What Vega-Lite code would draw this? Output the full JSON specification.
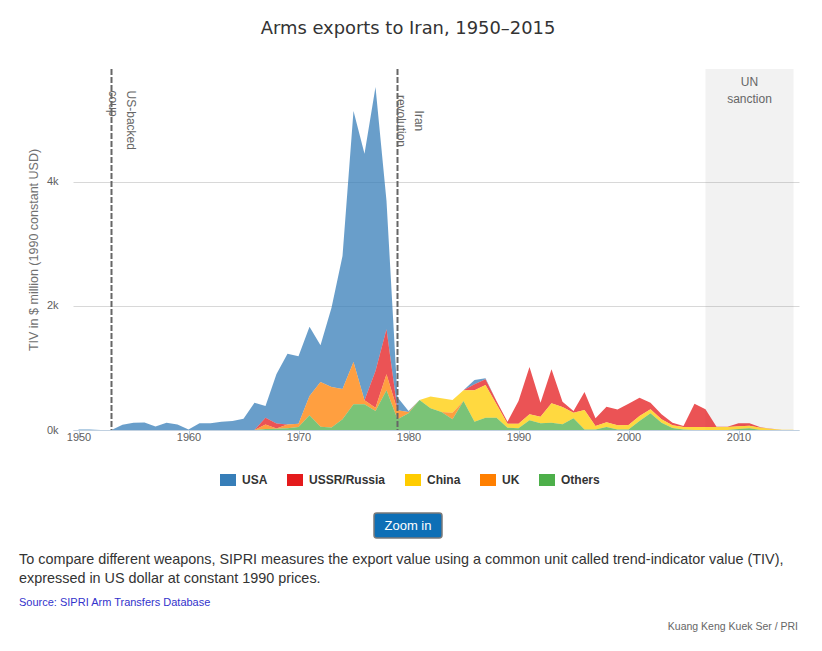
{
"$schema": "https://vega.github.io/schema/vega-lite/v6.json",
"background": "white",
"padding": {"left": 19, "top": 20, "right": 10, "bottom": 6},
"bounds": "flush",
"spacing": 83,
"config": {"view": {"stroke": null}, "font": "Liberation Sans"},
"vconcat": [
{
"width": 726, "height": 361,
"title": {"text": "Arms exports to Iran, 1950–2015", "anchor": "middle", "frame": "group", "dx": -28, "font": "DejaVu Sans", "fontSize": 17.9, "fontWeight": "normal", "color": "#333333", "offset": 30},
"layer": [
{
"data": {"values": [{"start": 2007, "end": 2015}]},
"mark": {"type": "rect", "color": "#808080", "opacity": 0.1},
"encoding": {"x": {"field": "start", "type": "quantitative", "title": null}, "x2": {"field": "end"}}
},
{
"data": {"values": [
{"year":1950,"country":"USA","tiv":10},{"year":1951,"country":"USA","tiv":10},{"year":1952,"country":"USA","tiv":0},{"year":1953,"country":"USA","tiv":0},{"year":1954,"country":"USA","tiv":85},{"year":1955,"country":"USA","tiv":115},{"year":1956,"country":"USA","tiv":120},{"year":1957,"country":"USA","tiv":55},{"year":1958,"country":"USA","tiv":115},{"year":1959,"country":"USA","tiv":90},
{"year":1960,"country":"USA","tiv":10},{"year":1961,"country":"USA","tiv":108},{"year":1962,"country":"USA","tiv":108},{"year":1963,"country":"USA","tiv":134},{"year":1964,"country":"USA","tiv":145},{"year":1965,"country":"USA","tiv":183},{"year":1966,"country":"USA","tiv":441},{"year":1967,"country":"USA","tiv":190},{"year":1968,"country":"USA","tiv":798},{"year":1969,"country":"USA","tiv":1140},
{"year":1970,"country":"USA","tiv":1088},{"year":1971,"country":"USA","tiv":1119},{"year":1972,"country":"USA","tiv":591},{"year":1973,"country":"USA","tiv":1279},{"year":1974,"country":"USA","tiv":2145},{"year":1975,"country":"USA","tiv":4048},{"year":1976,"country":"USA","tiv":3979},{"year":1977,"country":"USA","tiv":4580},{"year":1978,"country":"USA","tiv":2070},{"year":1979,"country":"USA","tiv":210},
{"year":1980,"country":"USA","tiv":15},{"year":1981,"country":"USA","tiv":0},{"year":1982,"country":"USA","tiv":0},{"year":1983,"country":"USA","tiv":0},{"year":1984,"country":"USA","tiv":0},{"year":1985,"country":"USA","tiv":0},{"year":1986,"country":"USA","tiv":70},{"year":1987,"country":"USA","tiv":16},{"year":1988,"country":"USA","tiv":0},{"year":1989,"country":"USA","tiv":0},
{"year":1990,"country":"USA","tiv":0},{"year":1991,"country":"USA","tiv":0},{"year":1992,"country":"USA","tiv":0},{"year":1993,"country":"USA","tiv":0},{"year":1994,"country":"USA","tiv":0},{"year":1995,"country":"USA","tiv":0},{"year":1996,"country":"USA","tiv":0},{"year":1997,"country":"USA","tiv":0},{"year":1998,"country":"USA","tiv":0},{"year":1999,"country":"USA","tiv":0},
{"year":2000,"country":"USA","tiv":0},{"year":2001,"country":"USA","tiv":0},{"year":2002,"country":"USA","tiv":0},{"year":2003,"country":"USA","tiv":0},{"year":2004,"country":"USA","tiv":0},{"year":2005,"country":"USA","tiv":0},{"year":2006,"country":"USA","tiv":0},{"year":2007,"country":"USA","tiv":0},{"year":2008,"country":"USA","tiv":0},{"year":2009,"country":"USA","tiv":0},
{"year":2010,"country":"USA","tiv":0},{"year":2011,"country":"USA","tiv":0},{"year":2012,"country":"USA","tiv":0},{"year":2013,"country":"USA","tiv":0},{"year":2014,"country":"USA","tiv":0},{"year":2015,"country":"USA","tiv":0},
{"year":1950,"country":"USSR/Russia","tiv":0},{"year":1951,"country":"USSR/Russia","tiv":0},{"year":1952,"country":"USSR/Russia","tiv":0},{"year":1953,"country":"USSR/Russia","tiv":0},{"year":1954,"country":"USSR/Russia","tiv":0},{"year":1955,"country":"USSR/Russia","tiv":0},{"year":1956,"country":"USSR/Russia","tiv":0},{"year":1957,"country":"USSR/Russia","tiv":0},{"year":1958,"country":"USSR/Russia","tiv":0},{"year":1959,"country":"USSR/Russia","tiv":0},
{"year":1960,"country":"USSR/Russia","tiv":0},{"year":1961,"country":"USSR/Russia","tiv":0},{"year":1962,"country":"USSR/Russia","tiv":0},{"year":1963,"country":"USSR/Russia","tiv":0},{"year":1964,"country":"USSR/Russia","tiv":0},{"year":1965,"country":"USSR/Russia","tiv":0},{"year":1966,"country":"USSR/Russia","tiv":0},{"year":1967,"country":"USSR/Russia","tiv":109},{"year":1968,"country":"USSR/Russia","tiv":80},{"year":1969,"country":"USSR/Russia","tiv":0},
{"year":1970,"country":"USSR/Russia","tiv":0},{"year":1971,"country":"USSR/Russia","tiv":0},{"year":1972,"country":"USSR/Russia","tiv":0},{"year":1973,"country":"USSR/Russia","tiv":0},{"year":1974,"country":"USSR/Russia","tiv":0},{"year":1975,"country":"USSR/Russia","tiv":0},{"year":1976,"country":"USSR/Russia","tiv":0},{"year":1977,"country":"USSR/Russia","tiv":592},{"year":1978,"country":"USSR/Russia","tiv":726},{"year":1979,"country":"USSR/Russia","tiv":3},
{"year":1980,"country":"USSR/Russia","tiv":0},{"year":1981,"country":"USSR/Russia","tiv":0},{"year":1982,"country":"USSR/Russia","tiv":0},{"year":1983,"country":"USSR/Russia","tiv":0},{"year":1984,"country":"USSR/Russia","tiv":0},{"year":1985,"country":"USSR/Russia","tiv":0},{"year":1986,"country":"USSR/Russia","tiv":96},{"year":1987,"country":"USSR/Russia","tiv":91},{"year":1988,"country":"USSR/Russia","tiv":54},{"year":1989,"country":"USSR/Russia","tiv":32},
{"year":1990,"country":"USSR/Russia","tiv":366},{"year":1991,"country":"USSR/Russia","tiv":763},{"year":1992,"country":"USSR/Russia","tiv":226},{"year":1993,"country":"USSR/Russia","tiv":548},{"year":1994,"country":"USSR/Russia","tiv":86},{"year":1995,"country":"USSR/Russia","tiv":26},{"year":1996,"country":"USSR/Russia","tiv":291},{"year":1997,"country":"USSR/Russia","tiv":123},{"year":1998,"country":"USSR/Russia","tiv":250},{"year":1999,"country":"USSR/Russia","tiv":252},
{"year":2000,"country":"USSR/Russia","tiv":344},{"year":2001,"country":"USSR/Russia","tiv":296},{"year":2002,"country":"USSR/Russia","tiv":108},{"year":2003,"country":"USSR/Russia","tiv":81},{"year":2004,"country":"USSR/Russia","tiv":43},{"year":2005,"country":"USSR/Russia","tiv":17},{"year":2006,"country":"USSR/Russia","tiv":377},{"year":2007,"country":"USSR/Russia","tiv":285},{"year":2008,"country":"USSR/Russia","tiv":6},{"year":2009,"country":"USSR/Russia","tiv":6},
{"year":2010,"country":"USSR/Russia","tiv":49},{"year":2011,"country":"USSR/Russia","tiv":38},{"year":2012,"country":"USSR/Russia","tiv":5},{"year":2013,"country":"USSR/Russia","tiv":6},{"year":2014,"country":"USSR/Russia","tiv":0},{"year":2015,"country":"USSR/Russia","tiv":0},
{"year":1950,"country":"China","tiv":0},{"year":1951,"country":"China","tiv":0},{"year":1952,"country":"China","tiv":0},{"year":1953,"country":"China","tiv":0},{"year":1954,"country":"China","tiv":0},{"year":1955,"country":"China","tiv":0},{"year":1956,"country":"China","tiv":0},{"year":1957,"country":"China","tiv":0},{"year":1958,"country":"China","tiv":0},{"year":1959,"country":"China","tiv":0},
{"year":1960,"country":"China","tiv":0},{"year":1961,"country":"China","tiv":0},{"year":1962,"country":"China","tiv":0},{"year":1963,"country":"China","tiv":0},{"year":1964,"country":"China","tiv":0},{"year":1965,"country":"China","tiv":0},{"year":1966,"country":"China","tiv":0},{"year":1967,"country":"China","tiv":0},{"year":1968,"country":"China","tiv":0},{"year":1969,"country":"China","tiv":0},
{"year":1970,"country":"China","tiv":0},{"year":1971,"country":"China","tiv":0},{"year":1972,"country":"China","tiv":0},{"year":1973,"country":"China","tiv":0},{"year":1974,"country":"China","tiv":0},{"year":1975,"country":"China","tiv":0},{"year":1976,"country":"China","tiv":0},{"year":1977,"country":"China","tiv":0},{"year":1978,"country":"China","tiv":0},{"year":1979,"country":"China","tiv":0},
{"year":1980,"country":"China","tiv":0},{"year":1981,"country":"China","tiv":0},{"year":1982,"country":"China","tiv":190},{"year":1983,"country":"China","tiv":221},{"year":1984,"country":"China","tiv":204},{"year":1985,"country":"China","tiv":172},{"year":1986,"country":"China","tiv":506},{"year":1987,"country":"China","tiv":527},{"year":1988,"country":"China","tiv":215},{"year":1989,"country":"China","tiv":64},
{"year":1990,"country":"China","tiv":75},{"year":1991,"country":"China","tiv":97},{"year":1992,"country":"China","tiv":107},{"year":1993,"country":"China","tiv":312},{"year":1994,"country":"China","tiv":280},{"year":1995,"country":"China","tiv":92},{"year":1996,"country":"China","tiv":312},{"year":1997,"country":"China","tiv":55},{"year":1998,"country":"China","tiv":75},{"year":1999,"country":"China","tiv":70},
{"year":2000,"country":"China","tiv":71},{"year":2001,"country":"China","tiv":81},{"year":2002,"country":"China","tiv":64},{"year":2003,"country":"China","tiv":54},{"year":2004,"country":"China","tiv":43},{"year":2005,"country":"China","tiv":38},{"year":2006,"country":"China","tiv":48},{"year":2007,"country":"China","tiv":48},{"year":2008,"country":"China","tiv":48},{"year":2009,"country":"China","tiv":48},
{"year":2010,"country":"China","tiv":43},{"year":2011,"country":"China","tiv":43},{"year":2012,"country":"China","tiv":38},{"year":2013,"country":"China","tiv":16},{"year":2014,"country":"China","tiv":5},{"year":2015,"country":"China","tiv":5},
{"year":1950,"country":"UK","tiv":0},{"year":1951,"country":"UK","tiv":0},{"year":1952,"country":"UK","tiv":0},{"year":1953,"country":"UK","tiv":0},{"year":1954,"country":"UK","tiv":0},{"year":1955,"country":"UK","tiv":0},{"year":1956,"country":"UK","tiv":0},{"year":1957,"country":"UK","tiv":0},{"year":1958,"country":"UK","tiv":0},{"year":1959,"country":"UK","tiv":0},
{"year":1960,"country":"UK","tiv":0},{"year":1961,"country":"UK","tiv":0},{"year":1962,"country":"UK","tiv":0},{"year":1963,"country":"UK","tiv":0},{"year":1964,"country":"UK","tiv":0},{"year":1965,"country":"UK","tiv":0},{"year":1966,"country":"UK","tiv":0},{"year":1967,"country":"UK","tiv":75},{"year":1968,"country":"UK","tiv":5},{"year":1969,"country":"UK","tiv":60},
{"year":1970,"country":"UK","tiv":52},{"year":1971,"country":"UK","tiv":311},{"year":1972,"country":"UK","tiv":720},{"year":1973,"country":"UK","tiv":654},{"year":1974,"country":"UK","tiv":489},{"year":1975,"country":"UK","tiv":683},{"year":1976,"country":"UK","tiv":64},{"year":1977,"country":"UK","tiv":54},{"year":1978,"country":"UK","tiv":258},{"year":1979,"country":"UK","tiv":142},
{"year":1980,"country":"UK","tiv":20},{"year":1981,"country":"UK","tiv":0},{"year":1982,"country":"UK","tiv":0},{"year":1983,"country":"UK","tiv":0},{"year":1984,"country":"UK","tiv":108},{"year":1985,"country":"UK","tiv":0},{"year":1986,"country":"UK","tiv":0},{"year":1987,"country":"UK","tiv":0},{"year":1988,"country":"UK","tiv":0},{"year":1989,"country":"UK","tiv":0},
{"year":1990,"country":"UK","tiv":0},{"year":1991,"country":"UK","tiv":0},{"year":1992,"country":"UK","tiv":0},{"year":1993,"country":"UK","tiv":0},{"year":1994,"country":"UK","tiv":0},{"year":1995,"country":"UK","tiv":0},{"year":1996,"country":"UK","tiv":0},{"year":1997,"country":"UK","tiv":0},{"year":1998,"country":"UK","tiv":0},{"year":1999,"country":"UK","tiv":0},
{"year":2000,"country":"UK","tiv":0},{"year":2001,"country":"UK","tiv":0},{"year":2002,"country":"UK","tiv":0},{"year":2003,"country":"UK","tiv":0},{"year":2004,"country":"UK","tiv":0},{"year":2005,"country":"UK","tiv":0},{"year":2006,"country":"UK","tiv":0},{"year":2007,"country":"UK","tiv":0},{"year":2008,"country":"UK","tiv":0},{"year":2009,"country":"UK","tiv":0},
{"year":2010,"country":"UK","tiv":0},{"year":2011,"country":"UK","tiv":0},{"year":2012,"country":"UK","tiv":0},{"year":2013,"country":"UK","tiv":0},{"year":2014,"country":"UK","tiv":0},{"year":2015,"country":"UK","tiv":0},
{"year":1950,"country":"Others","tiv":0},{"year":1951,"country":"Others","tiv":0},{"year":1952,"country":"Others","tiv":0},{"year":1953,"country":"Others","tiv":0},{"year":1954,"country":"Others","tiv":0},{"year":1955,"country":"Others","tiv":0},{"year":1956,"country":"Others","tiv":0},{"year":1957,"country":"Others","tiv":0},{"year":1958,"country":"Others","tiv":0},{"year":1959,"country":"Others","tiv":0},
{"year":1960,"country":"Others","tiv":0},{"year":1961,"country":"Others","tiv":0},{"year":1962,"country":"Others","tiv":0},{"year":1963,"country":"Others","tiv":0},{"year":1964,"country":"Others","tiv":0},{"year":1965,"country":"Others","tiv":0},{"year":1966,"country":"Others","tiv":0},{"year":1967,"country":"Others","tiv":15},{"year":1968,"country":"Others","tiv":20},{"year":1969,"country":"Others","tiv":30},
{"year":1970,"country":"Others","tiv":48},{"year":1971,"country":"Others","tiv":237},{"year":1972,"country":"Others","tiv":54},{"year":1973,"country":"Others","tiv":40},{"year":1974,"country":"Others","tiv":172},{"year":1975,"country":"Others","tiv":414},{"year":1976,"country":"Others","tiv":414},{"year":1977,"country":"Others","tiv":306},{"year":1978,"country":"Others","tiv":640},{"year":1979,"country":"Others","tiv":175},
{"year":1980,"country":"Others","tiv":270},{"year":1981,"country":"Others","tiv":484},{"year":1982,"country":"Others","tiv":349},{"year":1983,"country":"Others","tiv":290},{"year":1984,"country":"Others","tiv":172},{"year":1985,"country":"Others","tiv":468},{"year":1986,"country":"Others","tiv":134},{"year":1987,"country":"Others","tiv":199},{"year":1988,"country":"Others","tiv":199},{"year":1989,"country":"Others","tiv":38},
{"year":1990,"country":"Others","tiv":27},{"year":1991,"country":"Others","tiv":156},{"year":1992,"country":"Others","tiv":108},{"year":1993,"country":"Others","tiv":118},{"year":1994,"country":"Others","tiv":91},{"year":1995,"country":"Others","tiv":188},{"year":1996,"country":"Others","tiv":10},{"year":1997,"country":"Others","tiv":10},{"year":1998,"country":"Others","tiv":50},{"year":1999,"country":"Others","tiv":8},
{"year":2000,"country":"Others","tiv":10},{"year":2001,"country":"Others","tiv":145},{"year":2002,"country":"Others","tiv":269},{"year":2003,"country":"Others","tiv":118},{"year":2004,"country":"Others","tiv":32},{"year":2005,"country":"Others","tiv":10},{"year":2006,"country":"Others","tiv":0},{"year":2007,"country":"Others","tiv":0},{"year":2008,"country":"Others","tiv":0},{"year":2009,"country":"Others","tiv":0},
{"year":2010,"country":"Others","tiv":16},{"year":2011,"country":"Others","tiv":27},{"year":2012,"country":"Others","tiv":0},{"year":2013,"country":"Others","tiv":0},{"year":2014,"country":"Others","tiv":0},{"year":2015,"country":"Others","tiv":0}
]},
"transform": [{"calculate": "indexof(['Others','UK','China','USSR/Russia','USA'], datum.country)", "as": "rank"}],
"mark": {"type": "area", "opacity": 0.75, "interpolate": "linear"},
"encoding": {
"x": {"field": "year", "type": "quantitative", "title": null,
 "scale": {"domain": [1949.5, 2015.5], "nice": false, "zero": false},
 "axis": {"values": [1950,1960,1970,1980,1990,2000,2010], "format": "d", "grid": false, "domainColor": "#C0D0E0", "tickColor": "#C0D0E0", "tickSize": 9, "labelPadding": -8, "labelFlush": false, "labelColor": "#606060", "labelFont": "Liberation Sans", "labelFontSize": 11}},
"y": {"field": "tiv", "type": "quantitative", "stack": "zero", "title": "TIV in $ million (1990 constant USD)",
 "scale": {"domain": [0, 5822], "nice": false},
 "axis": {"values": [0,2000,4000], "labelExpr": "(datum.value/1000) + 'k'", "domain": false, "ticks": false, "gridColor": "#D8D8D8", "labelPadding": 15, "labelColor": "#606060", "labelFont": "Liberation Sans", "labelFontSize": 11, "titleColor": "#707070", "titleFont": "Liberation Sans", "titleFontSize": 12.5, "titleFontWeight": "normal", "titleX": -33, "titleBaseline": "bottom"}},
"color": {"field": "country", "type": "nominal",
 "scale": {"domain": ["USA","USSR/Russia","China","UK","Others"], "range": ["#377eb8","#e41a1c","#ffcc00","#ff7f00","#4daf4a"]},
 "legend": {"orient": "none", "legendX": 147, "legendY": 403, "direction": "horizontal", "title": null, "symbolType": "M-1,-0.75H1V0.75H-1Z", "symbolSize": 256, "symbolOpacity": 1, "symbolStrokeWidth": 0, "labelFont": "Liberation Sans", "labelFontSize": 12, "labelFontWeight": "bold", "labelColor": "#333333", "labelOffset": 6, "columnPadding": 19}},
"order": {"field": "rank", "type": "quantitative"}
}
},
{
"data": {"values": [{"year": 1953, "event": "US-backed coup"}, {"year": 1979, "event": "Iran revolution"}]},
"mark": {"type": "rule", "color": "#666666", "strokeWidth": 2, "strokeDash": [6, 2]},
"encoding": {"x": {"field": "year", "type": "quantitative", "title": null}}
},
{
"data": {"values": [{"year": 1953, "label": "US-backed\ncoup"}]},
"mark": {"type": "text", "angle": 90, "align": "left", "baseline": "middle", "lineBreak": "\n", "lineHeight": 18, "dx": 14, "dy": -19.5, "font": "Liberation Sans", "fontSize": 12, "color": "#666666"},
"encoding": {"x": {"field": "year", "type": "quantitative", "title": null}, "y": {"datum": 5700, "type": "quantitative"}, "text": {"field": "label"}}
},
{
"data": {"values": [{"year": 1979, "label": "Iran\nrevolution"}]},
"mark": {"type": "text", "angle": 90, "align": "center", "baseline": "middle", "lineBreak": "\n", "lineHeight": 18, "dx": 44.4, "dy": -21.5, "font": "Liberation Sans", "fontSize": 12, "color": "#666666"},
"encoding": {"x": {"field": "year", "type": "quantitative", "title": null}, "y": {"datum": 5700, "type": "quantitative"}, "text": {"field": "label"}}
},
{
"data": {"values": [{"year": 2011, "label": "UN\nsanction"}]},
"mark": {"type": "text", "align": "center", "baseline": "top", "lineBreak": "\n", "lineHeight": 17, "font": "Liberation Sans", "fontSize": 12, "color": "#666666"},
"encoding": {"x": {"field": "year", "type": "quantitative", "title": null}, "y": {"datum": 5700, "type": "quantitative"}, "text": {"field": "label"}}
}
]
},
{
"width": 670, "height": 25,
"data": {"values": [{"label": "Zoom in"}]},
"title": {"text": ["To compare different weapons, SIPRI measures the export value using a common unit called trend-indicator value (TIV),", "expressed in US dollar at constant 1990 prices."], "subtitle": "Source: SIPRI Arm Transfers Database", "orient": "bottom", "anchor": "start", "frame": "group", "dx": -54, "offset": 12, "font": "Liberation Sans", "fontSize": 14.4, "fontWeight": "normal", "color": "#333333", "lineHeight": 19, "subtitleFont": "Liberation Sans", "subtitleFontSize": 11, "subtitleColor": "#3333cc", "subtitlePadding": 11},
"layer": [
{"mark": {"type": "point", "shape": "M-0.92,-0.368H0.92Q1,-0.368 1,-0.29V0.29Q1,0.368 0.92,0.368H-0.92Q-1,0.368 -1,0.29V-0.29Q-1,-0.368 -0.92,-0.368Z", "size": 4624, "filled": true, "fill": "#0d6fb6", "stroke": "#7a7a7a", "strokeWidth": 1.5, "opacity": 1}, "encoding": {}},
{"mark": {"type": "text", "color": "white", "font": "Liberation Sans", "fontSize": 13, "align": "center", "baseline": "middle"}, "encoding": {"text": {"field": "label"}}}
]
},
{
"width": 725, "height": 1,
"data": {"values": [{}]},
"mark": {"type": "text", "text": ""},
"title": {"text": "Kuang Keng Kuek Ser / PRI", "orient": "bottom", "anchor": "end", "frame": "group", "offset": -5, "font": "Liberation Sans", "fontSize": 10.5, "fontWeight": "normal", "color": "#666666"}
}
]
}
